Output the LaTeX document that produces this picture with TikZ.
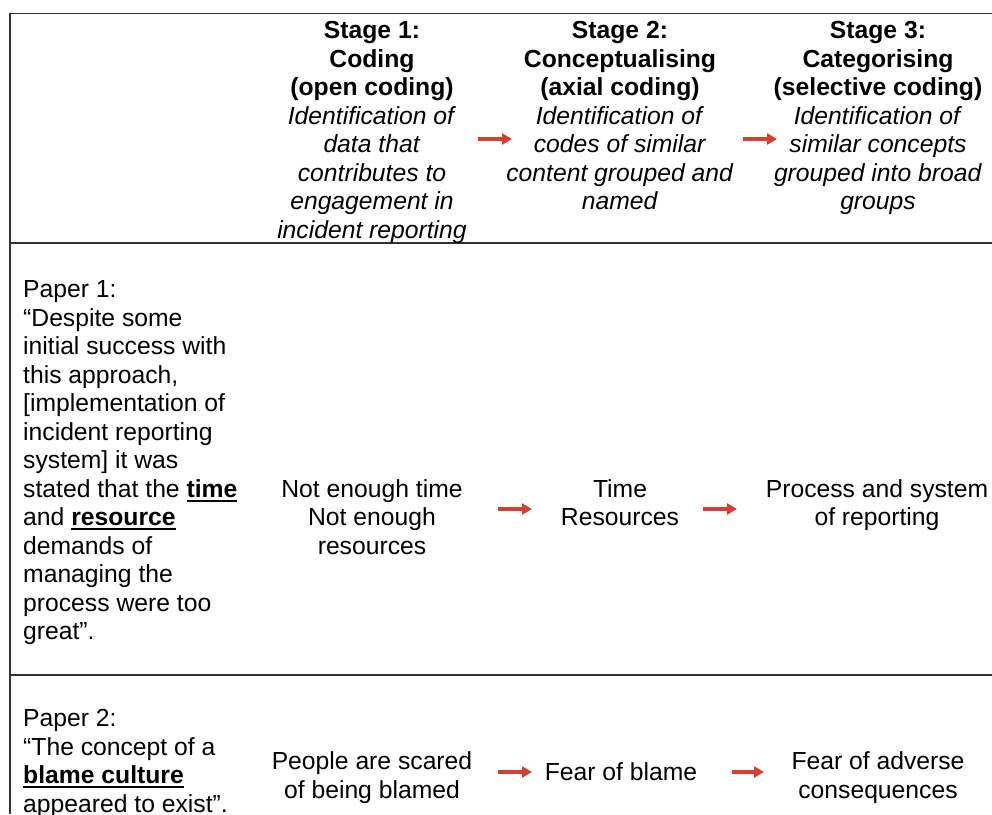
\documentclass[tikz,border=0pt]{standalone}
\usepackage{fontspec}
\setmainfont{Liberation Sans}
\usetikzlibrary{arrows.meta}
\definecolor{flowred}{RGB}{214,62,46}
\definecolor{gridgray}{RGB}{50,50,50}
\newcommand{\ulbold}[1]{\setbox0=\hbox{\textbf{#1}}\rlap{\rule[-4.5pt]{\wd0}{1.8pt}}\box0}

\begin{document}
\begin{tikzpicture}[x=1pt, y=-1pt,
    every node/.style={inner sep=0pt, font=\fontsize{24.7}{28.5}\selectfont},
    cell/.style={anchor=base, align=center},
    quotecell/.style={anchor=base west, align=left},
    redarrow/.style={flowred, line width=3.5pt, -{Triangle[length=10pt, width=11pt]}},
    gridline/.style={gridgray, line width=1.8pt}]
  \clip (0,0) rectangle (992,814);
  % table rules
  \draw[gridline] (992,13.5) -- (10,13.5) -- (10,814);
  \draw[gridline] (10,243) -- (992,243);
  \draw[gridline] (10,675) -- (992,675);

  % header (nodes sit on the baseline of their last line)
  \node (stage1) [cell] at (372,238) {\textbf{Stage 1:}\\\textbf{Coding}\\\textbf{(open coding)}\\\textit{Identification of}\\\textit{data that}\\\textit{contributes to}\\\textit{engagement in}\\\textit{incident reporting}};
  \node (stage2) [cell] at (620,209.5) {\textbf{Stage 2:}\\\textbf{Conceptualising}\\\textbf{(axial coding)}\\\textit{Identification of}\\\textit{codes of similar}\\\textit{content grouped and}\\\textit{named}};
  \node (stage3) [cell] at (878,209.5) {\textbf{Stage 3:}\\\textbf{Categorising}\\\textbf{(selective coding)}\\\textit{Identification of}\\\textit{similar concepts}\\\textit{grouped into broad}\\\textit{groups}};

  % paper 1
  \node (quote1) [quotecell] at (23,639.5) {Paper 1:\\“Despite some\\initial success with\\this approach,\\{[}implementation of\\incident reporting\\system] it was\\stated that the \ulbold{time}\\and \ulbold{resource}\\demands of\\managing the\\process were too\\great”.};
  \node (code1) [cell] at (372,554) {Not enough time\\Not enough\\resources};
  \node (concept1) [cell] at (620,525.5) {Time\\Resources};
  \node (cat1) [cell] at (877,525.5) {Process and system\\of reporting};

  % paper 2
  \node (quote2) [quotecell] at (23,812) {Paper 2:\\“The concept of a\\\ulbold{blame culture}\\appeared to exist”.};
  \node (code2) [cell] at (372,798) {People are scared\\of being blamed};
  \node (concept2) [cell] at (621,780.5) {Fear of blame};
  \node (cat2) [cell] at (878,798) {Fear of adverse\\consequences};

  % red arrows
  \foreach \n/\xa/\xb/\y in {h1/478/512/139, h2/743/777/139, pa/498/532/509, pb/703/737/509, qa/498/532/772, qb/732/764/772} {
    \coordinate (\n s) at (\xa,\y);
    \coordinate (\n e) at (\xb,\y);
    \draw[redarrow] (\n s) -- (\n e);
  }
\end{tikzpicture}
\end{document}
